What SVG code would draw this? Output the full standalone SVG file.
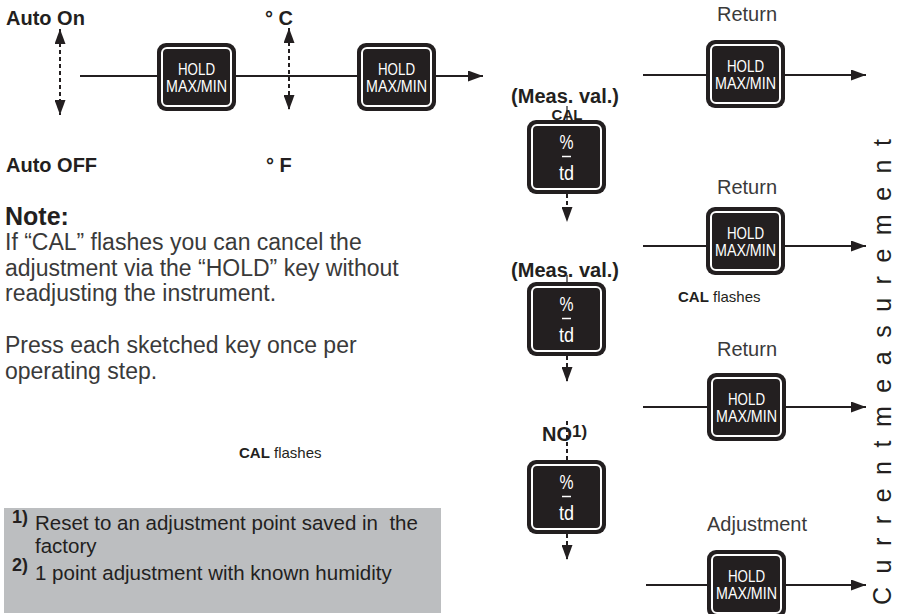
<svg xmlns="http://www.w3.org/2000/svg" width="899" height="614" viewBox="0 0 899 614">
<style>
.t{font-family:"Liberation Sans",Arial,sans-serif;fill:#231f20}
.b{font-weight:bold}
.body{font-size:23px;fill:#3a3a3a}
.lbl{font-size:20px;fill:#3a3a3a}
.kt{font-family:"Liberation Sans",Arial,sans-serif;fill:#fff;text-anchor:middle}
.kb{fill:#231f20}
.ki{fill:#231f20;stroke:#fff;stroke-width:2}
.ln{stroke:#231f20;stroke-width:2;fill:none}
.dl{stroke:#231f20;stroke-width:2;fill:none;stroke-dasharray:4 3}
.tl{stroke:#231f20;stroke-width:1.2;fill:none}
</style>
<defs>
<marker id="ah" viewBox="0 0 15 11" refX="15" refY="5.5" markerWidth="15" markerHeight="11" markerUnits="userSpaceOnUse" orient="auto-start-reverse"><path d="M0,0 L15,5.5 L0,11 Z" fill="#231f20"/></marker>
<g id="holdBody"><rect width="79" height="68" rx="9" class="kb"/><rect x="5" y="5" width="69" height="58" rx="5" class="ki"/></g>
<g id="pctBody"><rect width="79" height="74" rx="9" class="kb"/><rect x="5" y="5" width="69" height="64" rx="5" class="ki"/></g>
</defs>

<rect x="4" y="508" width="437" height="105" fill="#bcbec0"/>

<g id="connectors">
<path class="ln" d="M80,76 H157 M236,76 H357"/>
<path class="ln" d="M436,76 H483" marker-end="url(#ah)"/>
<path class="dl" d="M60,29 V115" marker-start="url(#ah)" marker-end="url(#ah)"/>
<path class="dl" d="M289,28 V110" marker-start="url(#ah)" marker-end="url(#ah)"/>
<path class="ln" d="M643,75 H706"/><path class="ln" d="M785,75 H866" marker-end="url(#ah)"/>
<path class="ln" d="M643,246 H706"/><path class="ln" d="M785,246 H866" marker-end="url(#ah)"/>
<path class="ln" d="M643,407 H707"/><path class="ln" d="M786,407 H866" marker-end="url(#ah)"/>
<path class="ln" d="M646,585 H707"/><path class="ln" d="M786,585 H866" marker-end="url(#ah)"/>
<path class="tl" d="M567,106 V120"/>
<path class="dl" d="M567,194 V222" marker-end="url(#ah)"/>
<path class="tl" d="M567,275 V282"/>
<path class="dl" d="M567,356 V382" marker-end="url(#ah)"/>
<path class="dl" d="M567,421 V460"/>
<path class="dl" d="M567,534 V560" marker-end="url(#ah)"/>
</g>

<g id="key-hold-1" transform="translate(157,43)"><use href="#holdBody"/><text class="kt" x="39.5" y="32" font-size="16" textLength="37" lengthAdjust="spacingAndGlyphs">HOLD</text><text class="kt" x="39.5" y="48.5" font-size="16" textLength="61" lengthAdjust="spacingAndGlyphs">MAX/MIN</text></g>
<g id="key-hold-2" transform="translate(357,43)"><use href="#holdBody"/><text class="kt" x="39.5" y="32" font-size="16" textLength="37" lengthAdjust="spacingAndGlyphs">HOLD</text><text class="kt" x="39.5" y="48.5" font-size="16" textLength="61" lengthAdjust="spacingAndGlyphs">MAX/MIN</text></g>
<g id="key-return-1" transform="translate(706,40)"><use href="#holdBody"/><text class="kt" x="39.5" y="32" font-size="16" textLength="37" lengthAdjust="spacingAndGlyphs">HOLD</text><text class="kt" x="39.5" y="48.5" font-size="16" textLength="61" lengthAdjust="spacingAndGlyphs">MAX/MIN</text></g>
<g id="key-return-2" transform="translate(706,207)"><use href="#holdBody"/><text class="kt" x="39.5" y="32" font-size="16" textLength="37" lengthAdjust="spacingAndGlyphs">HOLD</text><text class="kt" x="39.5" y="48.5" font-size="16" textLength="61" lengthAdjust="spacingAndGlyphs">MAX/MIN</text></g>
<g id="key-return-3" transform="translate(707,373)"><use href="#holdBody"/><text class="kt" x="39.5" y="32" font-size="16" textLength="37" lengthAdjust="spacingAndGlyphs">HOLD</text><text class="kt" x="39.5" y="48.5" font-size="16" textLength="61" lengthAdjust="spacingAndGlyphs">MAX/MIN</text></g>
<g id="key-adjust" transform="translate(707,550)"><use href="#holdBody"/><text class="kt" x="39.5" y="32" font-size="16" textLength="37" lengthAdjust="spacingAndGlyphs">HOLD</text><text class="kt" x="39.5" y="48.5" font-size="16" textLength="61" lengthAdjust="spacingAndGlyphs">MAX/MIN</text></g>

<g id="key-pct-1" transform="translate(527,120)"><use href="#pctBody"/><text class="kt" x="39.5" y="29" font-size="20" textLength="14" lengthAdjust="spacingAndGlyphs">%</text><path d="M35,36.5 H44" stroke="#fff" stroke-width="1.5"/><text class="kt" x="39.5" y="60" font-size="21" textLength="15" lengthAdjust="spacingAndGlyphs">td</text></g>
<g id="key-pct-2" transform="translate(527,282)"><use href="#pctBody"/><text class="kt" x="39.5" y="29" font-size="20" textLength="14" lengthAdjust="spacingAndGlyphs">%</text><path d="M35,36.5 H44" stroke="#fff" stroke-width="1.5"/><text class="kt" x="39.5" y="60" font-size="21" textLength="15" lengthAdjust="spacingAndGlyphs">td</text></g>
<g id="key-pct-3" transform="translate(527,460)"><use href="#pctBody"/><text class="kt" x="39.5" y="29" font-size="20" textLength="14" lengthAdjust="spacingAndGlyphs">%</text><path d="M35,36.5 H44" stroke="#fff" stroke-width="1.5"/><text class="kt" x="39.5" y="60" font-size="21" textLength="15" lengthAdjust="spacingAndGlyphs">td</text></g>

<g id="labels">
<text class="t b" x="6" y="25" font-size="20">Auto On</text>
<text class="t b" x="6" y="172" font-size="20">Auto OFF</text>
<text class="t b" x="265" y="25" font-size="20">° C</text>
<text class="t b" x="266" y="172" font-size="20">° F</text>
<text class="t b" x="565" y="103" font-size="20" text-anchor="middle">(Meas. val.)</text>
<text class="t b" x="567" y="120" font-size="15" text-anchor="middle">CAL</text>
<text class="t b" x="565" y="277" font-size="20" text-anchor="middle">(Meas. val.)</text>
<text class="t b" x="542" y="441" font-size="20">NO<tspan font-size="17" dy="-4">1)</tspan></text>
<text class="t lbl" x="747" y="21" text-anchor="middle">Return</text>
<text class="t lbl" x="747" y="194" text-anchor="middle">Return</text>
<text class="t lbl" x="747" y="356" text-anchor="middle">Return</text>
<text class="t lbl" x="707" y="531">Adjustment</text>
<text class="t" x="678" y="302" font-size="15"><tspan font-weight="bold">CAL</tspan> flashes</text>
<text class="t" x="239" y="458" font-size="15"><tspan font-weight="bold">CAL</tspan> flashes</text>
<text class="t b" x="5" y="225" font-size="25">Note:</text>
<text class="t body" x="5" y="250">If “CAL” flashes you can cancel the</text>
<text class="t body" x="5" y="276">adjustment via the “HOLD” key without</text>
<text class="t body" x="5" y="301">readjusting the instrument.</text>
<text class="t body" x="5" y="353">Press each sketched key once per</text>
<text class="t body" x="5" y="379">operating step.</text>
<text class="t b" x="12" y="523" font-size="18">1)</text>
<text class="t" x="35" y="530" font-size="20.5" fill="#333" style="white-space:pre">Reset to an adjustment point saved in  the</text>
<text class="t" x="35" y="553" font-size="20.5" fill="#333">factory</text>
<text class="t b" x="12" y="571" font-size="18">2)</text>
<text class="t" x="35" y="580" font-size="20.5" fill="#333">1 point adjustment with known humidity</text>
<text class="t" transform="translate(891,605) rotate(-90)" x="0" y="0" font-size="25" textLength="466" lengthAdjust="spacing">Currentmeasurement</text>
</g>
</svg>
